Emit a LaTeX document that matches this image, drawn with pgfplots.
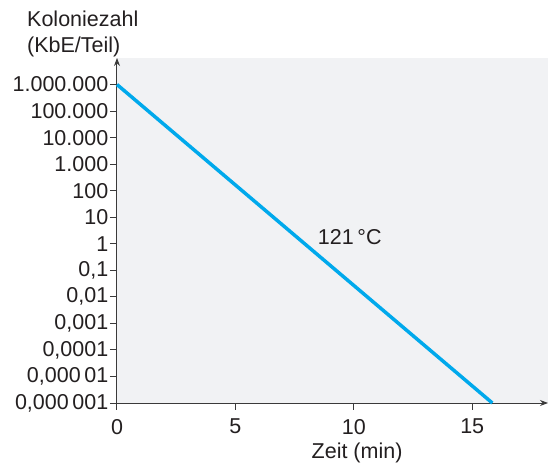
\documentclass[border=0pt]{standalone}
\usepackage{pgfplots}
\pgfplotsset{compat=1.18}
\usepackage{fontspec}
\setmainfont{Liberation Sans}
\usetikzlibrary{arrows.meta}
\definecolor{txt}{HTML}{231F20}
\definecolor{axln}{HTML}{3A3A3A}
\definecolor{bg}{HTML}{F1F2F4}
\definecolor{cyanline}{HTML}{00A9EC}
\begin{document}
\begin{tikzpicture}[font=\fontsize{21.5bp}{25.5bp}\selectfont, text=txt]
\begin{axis}[
  at={(0,0)}, anchor=south west,
  scale only axis, width=431bp, height=345bp,
  ymode=log, log basis y=10,
  xmin=0, xmax=18.2, ymin=1e-6, ymax=1e7,
  axis lines=left,
  axis line style={draw=axln, line width=1bp, -{Stealth[length=8bp,width=6bp]}},
  axis background/.style={fill=bg},
  tick style={draw=axln, line width=1bp},
  tick align=outside, major tick length=7bp,
  minor tick num=0, log ticks with fixed point,
  xtick={0,5,10,15}, xticklabels={0,5,10,15},
  ytick={1e-6,1e-5,1e-4,1e-3,1e-2,1e-1,1,10,100,1000,1e4,1e5,1e6},
  yticklabels={{0,000\,001},{0,000\,01},{0,0001},{0,001},{0,01},{0,1},1,10,100,{1.000},{10.000},{100.000},{1.000.000}},
  yticklabel style={inner sep=1.5bp},
  xticklabel style={inner sep=2bp, yshift=-7bp},
  xlabel={Zeit (min)},
  xlabel style={at={(axis description cs:0.557,0)}, anchor=north, yshift=-36bp},
  clip=false,
]
\addplot[color=cyanline, line width=3.5bp] coordinates {(0,1e6) (15.85,1e-6)};
\node[anchor=center, inner sep=0] at (axis cs:9.83,1.8) {121\,°C};
\end{axis}
\node[anchor=north west, align=left, inner sep=0] at (-90bp,392bp) {Koloniezahl\\(KbE/Teil)};
\pgfresetboundingbox
\path[use as bounding box] (-117bp,-63bp) rectangle (433bp,403bp);
\end{tikzpicture}
\end{document}
